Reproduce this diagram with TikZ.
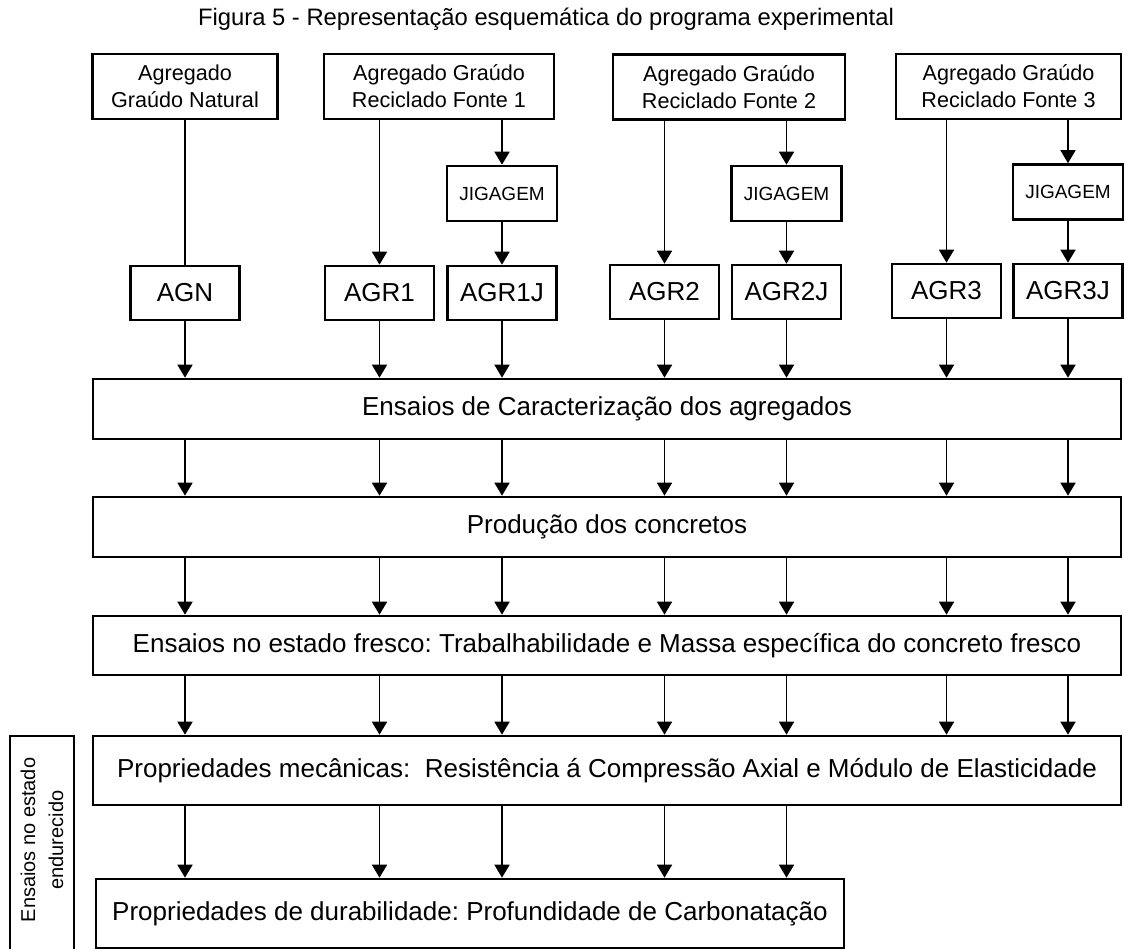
\documentclass[tikz,border=0pt]{standalone}
\usepackage{fontspec}
\setmainfont{Liberation Sans}
\usetikzlibrary{arrows.meta,positioning}
\frenchspacing
\tikzset{
  srcbox/.style={draw=black,line width=2.6pt,align=center,inner sep=0pt,
                 minimum height=65pt,font=\fontsize{21.6}{27}\selectfont},
  jigbox/.style={draw=black,line width=2.6pt,inner sep=0pt,
                 minimum width=110pt,minimum height=55pt,font=\fontsize{19}{23}\selectfont},
  agbox/.style={draw=black,line width=2.6pt,inner sep=0pt,
                minimum width=109pt,minimum height=54pt,font=\fontsize{26}{31}\selectfont},
  stagebox/.style={draw=black,line width=2.6pt,inner sep=0pt,
                   minimum width=1028pt,minimum height=60pt,font=\fontsize{26}{31}\selectfont},
  sidebox/.style={draw=black,line width=2.6pt,inner sep=0pt,
                  minimum width=64pt,minimum height=228pt},
  sidelbl/.style={rotate=90,align=center,inner sep=0pt,font=\fontsize{20}{28}\selectfont},
  titlelbl/.style={inner sep=0pt,font=\fontsize{23.8}{28}\selectfont},
  arr/.style={-{Triangle[length=13pt,width=15pt]},line width=1.7pt},
  ln/.style={line width=1.7pt}
}
\begin{document}
\begin{tikzpicture}[x=1pt,y=-1pt]
  \useasboundingbox (0,0) rectangle (1124,949);

  % title
  \node[titlelbl] (title) at (546,19) {Figura 5 - Representação esquemática do programa experimental};

  % sources
  \node[srcbox,minimum width=185pt] (nat) at (185,86.5) {Agregado\\Graúdo Natural};
  \node[srcbox,minimum width=230pt] (f1) at (439,86.5) {Agregado Graúdo\\Reciclado Fonte 1};
  \node[srcbox,minimum width=232pt] (f2) at (729,87) {Agregado Graúdo\\Reciclado Fonte 2};
  \node[srcbox,minimum width=225pt] (f3) at (1008.5,86.5) {Agregado Graúdo\\Reciclado Fonte 3};

  % jigging
  \node[jigbox] (jig1) at (502,193.5) {JIGAGEM};
  \node[jigbox] (jig2) at (786.5,193.5) {JIGAGEM};
  \node[jigbox] (jig3) at (1068,192) {JIGAGEM};

  % aggregates
  \node[agbox] (agn) at (185,293) {AGN};
  \node[agbox] (agr1) at (379.5,293) {AGR1};
  \node[agbox] (agr1j) at (502,293) {AGR1J};
  \node[agbox] (agr2) at (664.5,292) {AGR2};
  \node[agbox] (agr2j) at (786.5,292) {AGR2J};
  \node[agbox] (agr3) at (946.5,291) {AGR3};
  \node[agbox] (agr3j) at (1068,291) {AGR3J};

  % stages
  \node[stagebox] (carac) at (607,409) {Ensaios de Caracterização dos agregados};
  \node[stagebox] (prod) at (607,527) {Produção dos concretos};
  \node[stagebox,minimum height=59pt] (fresco) at (607,645.5)
    {Ensaios no estado fresco: Trabalhabilidade e Massa específica do concreto fresco};
  \node[stagebox,minimum height=69pt] (mec) at (607,770.5)
    {Propriedades mecânicas:\ \ Resistência á Compressão Axial e Módulo de Elasticidade};
  \node[stagebox,minimum width=748pt,minimum height=69pt] (dur) at (470,913.5)
    {Propriedades de durabilidade: Profundidade de Carbonatação};

  % hardened-state label
  \node[sidebox] (sideframe) at (42,850) {};
  \node[sidelbl] (endur) at (42,840) {Ensaios no estado\\endurecido};

  % sources to aggregates
  \draw[ln] (nat) -- (agn);
  \draw[arr] (f1.south -| agr1) -- (agr1);
  \draw[arr] (f1.south -| jig1) -- (jig1);
  \draw[arr] (jig1) -- (agr1j);
  \draw[arr] (f2.south -| agr2) -- (agr2);
  \draw[arr] (f2.south -| jig2) -- (jig2);
  \draw[arr] (jig2) -- (agr2j);
  \draw[arr] (f3.south -| agr3) -- (agr3);
  \draw[arr] (f3.south -| jig3) -- (jig3);
  \draw[arr] (jig3) -- (agr3j);

  % aggregates to characterisation
  \draw[arr] (agn) -- (agn |- carac.north);
  \draw[arr] (agr1) -- (agr1 |- carac.north);
  \draw[arr] (agr1j) -- (agr1j |- carac.north);
  \draw[arr] (agr2) -- (agr2 |- carac.north);
  \draw[arr] (agr2j) -- (agr2j |- carac.north);
  \draw[arr] (agr3) -- (agr3 |- carac.north);
  \draw[arr] (agr3j) -- (agr3j |- carac.north);

  % characterisation to production
  \draw[arr] (carac.south -| agn) -- (prod.north -| agn);
  \draw[arr] (carac.south -| agr1) -- (prod.north -| agr1);
  \draw[arr] (carac.south -| agr1j) -- (prod.north -| agr1j);
  \draw[arr] (carac.south -| agr2) -- (prod.north -| agr2);
  \draw[arr] (carac.south -| agr2j) -- (prod.north -| agr2j);
  \draw[arr] (carac.south -| agr3) -- (prod.north -| agr3);
  \draw[arr] (carac.south -| agr3j) -- (prod.north -| agr3j);

  % production to fresh tests
  \draw[arr] (prod.south -| agn) -- (fresco.north -| agn);
  \draw[arr] (prod.south -| agr1) -- (fresco.north -| agr1);
  \draw[arr] (prod.south -| agr1j) -- (fresco.north -| agr1j);
  \draw[arr] (prod.south -| agr2) -- (fresco.north -| agr2);
  \draw[arr] (prod.south -| agr2j) -- (fresco.north -| agr2j);
  \draw[arr] (prod.south -| agr3) -- (fresco.north -| agr3);
  \draw[arr] (prod.south -| agr3j) -- (fresco.north -| agr3j);

  % fresh tests to mechanical
  \draw[arr] (fresco.south -| agn) -- (mec.north -| agn);
  \draw[arr] (fresco.south -| agr1) -- (mec.north -| agr1);
  \draw[arr] (fresco.south -| agr1j) -- (mec.north -| agr1j);
  \draw[arr] (fresco.south -| agr2) -- (mec.north -| agr2);
  \draw[arr] (fresco.south -| agr2j) -- (mec.north -| agr2j);
  \draw[arr] (fresco.south -| agr3) -- (mec.north -| agr3);
  \draw[arr] (fresco.south -| agr3j) -- (mec.north -| agr3j);

  % mechanical to durability
  \draw[arr] (mec.south -| agn) -- (dur.north -| agn);
  \draw[arr] (mec.south -| agr1) -- (dur.north -| agr1);
  \draw[arr] (mec.south -| agr1j) -- (dur.north -| agr1j);
  \draw[arr] (mec.south -| agr2) -- (dur.north -| agr2);
  \draw[arr] (mec.south -| agr2j) -- (dur.north -| agr2j);
\end{tikzpicture}
\end{document}
